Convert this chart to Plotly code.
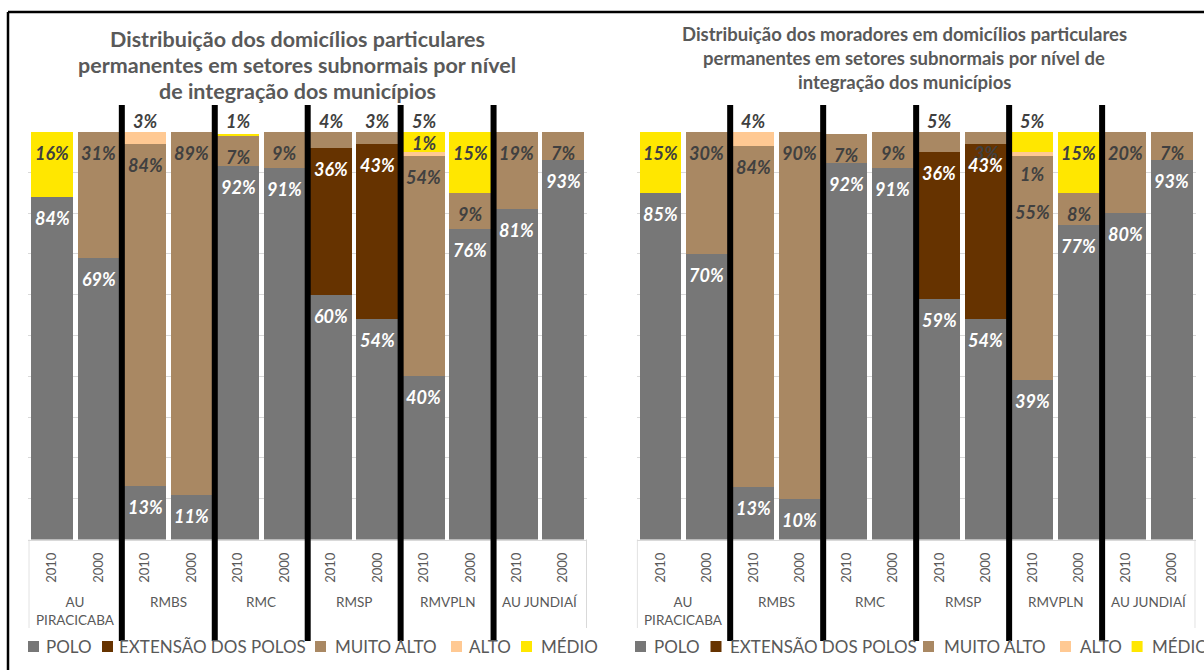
import plotly.graph_objects as go

W, H = 1204, 670

# ---------------- DATA ----------------
groups = ["AU PIRACICABA", "RMBS", "RMC", "RMSP", "RMVPLN", "AU JUNDIAÍ"]
group_labels = ["AU<br>PIRACICABA", "RMBS", "RMC", "RMSP", "RMVPLN", "AU JUNDIAÍ"]
years = ["2010", "2000"]
series_names = ["POLO", "EXTENSÃO DOS POLOS", "MUITO ALTO", "ALTO", "MÉDIO"]

# Domicílios (left chart), % per bar, order: groups x years
dom_polo = [84, 69, 13, 11, 91.6, 91, 60, 54, 40, 76, 81, 93]
dom_ext = [0, 0, 0, 0, 0, 0, 36, 43, 0, 0, 0, 0]
dom_muito_alto = [0, 31, 84, 89, 7.2, 9, 4, 3, 54, 9, 19, 7]
dom_alto = [0, 0, 3, 0, 0, 0, 0, 0, 1, 0, 0, 0]
dom_medio = [16, 0, 0, 0, 0.6, 0, 0, 0, 5, 15, 0, 0]

# Moradores (right chart)
mor_polo = [85, 70, 12.8, 10, 92.3, 91, 59, 54, 39, 77, 80, 93]
mor_ext = [0, 0, 0, 0, 0, 0, 36, 43, 0, 0, 0, 0]
mor_muito_alto = [0, 30, 83.6, 90, 7.2, 9, 5, 3, 55, 8, 20, 7]
mor_alto = [0, 0, 3.6, 0, 0, 0, 0, 0, 1, 0, 0, 0]
mor_medio = [15, 0, 0, 0, 0, 0, 0, 0, 5, 15, 0, 0]

title_dom = ["Distribuição dos domicílios particulares",
             "permanentes em setores subnormais por nível",
             "de integração dos municípios"]
title_mor = ["Distribuição dos moradores em domicílios particulares",
             "permanentes em setores subnormais por nível de",
             "integração dos municípios"]

# ---------------- STYLE ----------------
colors = ["#777777", "#663300", "#A98863", "#FFC993", "#FFE700"]
label_colors = ["white", "white", "#404040", "#404040", "#404040"]
FONT = "Lato"
GRAY_TXT = "#595959"


def px_x(x):
    return x / W


def px_y(y):
    return 1 - y / H


Y_TOP, Y_BOT = 131.5, 539.5
y_dom = [px_y(Y_BOT), px_y(Y_TOP)]
left_dom = [px_x(28.4), px_x(587.0)]
right_dom = [px_x(636.7), px_x(1195.6)]

cats = [f"{g} {y}" for g in groups for y in years]
tick_years = [y for g in groups for y in years]

charts = [
    dict(xa="x", ya="y", data=[dom_polo, dom_ext, dom_muito_alto, dom_alto, dom_medio],
         title=title_dom, tcx=297, tys=[39, 65, 91], tsize=21.5),
    dict(xa="x2", ya="y2", data=[mor_polo, mor_ext, mor_muito_alto, mor_alto, mor_medio],
         title=title_mor, tcx=904, tys=[34, 58, 82], tsize=18.5),
]

# label placement exceptions: (chart, series, bar) -> "above" or y value (data units)
label_pos = {
    (0, 3, 2): "above", (0, 4, 4): "above", (0, 2, 6): "above", (0, 2, 7): "above",
    (0, 4, 8): "above", (0, 3, 8): 97.1,
    (1, 3, 2): "above", (1, 2, 6): "above", (1, 4, 8): "above",
    (1, 3, 8): 89.6, (1, 2, 8): 80.2,
}

fig = go.Figure()
annotations = []
shapes = []

for ci, ch in enumerate(charts):
    for si, vals in enumerate(ch["data"]):
        fig.add_trace(go.Bar(
            x=cats, y=vals, name=series_names[si], xaxis=ch["xa"], yaxis=ch["ya"],
            marker=dict(color=colors[si], line=dict(width=0)),
            showlegend=False, hoverinfo="name+y",
        ))
    # data labels
    n = len(cats)
    bottoms = [0.0] * n
    lab = []
    for si, vals in enumerate(ch["data"]):
        for bi in range(n):
            v = vals[bi]
            top = bottoms[bi] + v
            if v > 0:
                key = (ci, si, bi)
                pos = label_pos.get(key)
                if pos == "above":
                    y, ys = 100, 11
                elif pos is not None:
                    y, ys = pos, 0
                else:
                    y, ys = top, -21
                lab.append(dict(
                    x=cats[bi], y=y, yshift=ys, xref=ch["xa"], yref=ch["ya"],
                    text=f"<b><i>{round(v)}%</i></b>", showarrow=False,
                    font=dict(family=FONT, size=18, color=label_colors[si]),
                    xanchor="center", yanchor="middle",
                ))
            bottoms[bi] = top
    # draw muted labels first, white ones last (on top)
    lab.sort(key=lambda a: a["font"]["color"] == "white")
    annotations += lab

    # titles
    for line, ty in zip(ch["title"], ch["tys"]):
        annotations.append(dict(
            x=px_x(ch["tcx"]), y=px_y(ty), xref="paper", yref="paper",
            text=f"<b>{line}</b>", showarrow=False, xanchor="center", yanchor="middle",
            font=dict(family=FONT, size=ch["tsize"], color=GRAY_TXT),
        ))

    # group labels under axis
    for gi, gl in enumerate(group_labels):
        annotations.append(dict(
            x=2 * gi + 0.5, y=px_y(591.5), xref=ch["xa"], yref="paper",
            text=gl, showarrow=False, xanchor="center", yanchor="top",
            font=dict(family=FONT, size=13.5, color=GRAY_TXT),
        ))

    # category box lines (light gray)
    for b in [-0.5, 1.5, 3.5, 5.5, 7.5, 9.5, 11.5]:
        shapes.append(dict(type="line", xref=ch["xa"], yref="paper",
                           x0=b, x1=b, y0=px_y(628), y1=px_y(Y_BOT),
                           line=dict(color="#d9d9d9", width=1)))
    # thick black separators
    for b in [1.5, 3.5, 5.5, 7.5, 9.5]:
        shapes.append(dict(type="line", xref=ch["xa"], yref="paper",
                           x0=b, x1=b, y0=px_y(641), y1=px_y(105),
                           line=dict(color="black", width=6), layer="above"))

# manual legends
legend_sets = [
    dict(sq=[28, 102, 315, 451, 521], tx=[43.6, 116.7, 332.7, 467, 539]),
    dict(sq=[635, 710.5, 923, 1060, 1131.6], tx=[652, 728, 942, 1077.6, 1150]),
]
for ls in legend_sets:
    for si, name in enumerate(series_names):
        x0 = ls["sq"][si]
        shapes.append(dict(type="rect", xref="paper", yref="paper",
                           x0=px_x(x0), x1=px_x(x0 + 11), y0=px_y(652), y1=px_y(641),
                           fillcolor=colors[si], line=dict(width=0)))
        annotations.append(dict(
            x=px_x(ls["tx"][si]), y=px_y(646.5), xref="paper", yref="paper",
            text=name, showarrow=False, xanchor="left", yanchor="middle",
            font=dict(family=FONT, size=17, color=GRAY_TXT),
        ))

# outer border
shapes.append(dict(type="line", xref="paper", yref="paper", x0=px_x(8), x1=1,
                   y0=px_y(12), y1=px_y(12), line=dict(color="black", width=2.5)))
shapes.append(dict(type="line", xref="paper", yref="paper", x0=px_x(8), x1=px_x(8),
                   y0=0, y1=px_y(12), line=dict(color="black", width=2.5)))

xaxis_common = dict(
    type="category", tickvals=cats, ticktext=tick_years, tickangle=-90,
    tickfont=dict(family=FONT, size=13, color=GRAY_TXT),
    ticks="outside", ticklen=7, tickcolor="rgba(0,0,0,0)",
    showline=True, linecolor="#d9d9d9", linewidth=1, showgrid=False,
    fixedrange=True,
)
yaxis_common = dict(
    range=[0, 100], dtick=10, showgrid=True, gridcolor="#d9d9d9", gridwidth=1,
    showticklabels=False, zeroline=False, showline=False, fixedrange=True,
)

fig.update_layout(
    width=W, height=H, margin=dict(l=0, r=0, t=0, b=0),
    paper_bgcolor="white", plot_bgcolor="white",
    barmode="stack", bargap=0.1,
    font=dict(family=FONT, color=GRAY_TXT),
    xaxis=dict(domain=left_dom, anchor="y", **xaxis_common),
    yaxis=dict(domain=y_dom, anchor="x", **yaxis_common),
    xaxis2=dict(domain=right_dom, anchor="y2", **xaxis_common),
    yaxis2=dict(domain=y_dom, anchor="x2", **yaxis_common),
    annotations=annotations, shapes=shapes,
)

fig.write_html("out.html", config={"displayModeBar": False},
               post_script="document.body.style.margin='0';")
